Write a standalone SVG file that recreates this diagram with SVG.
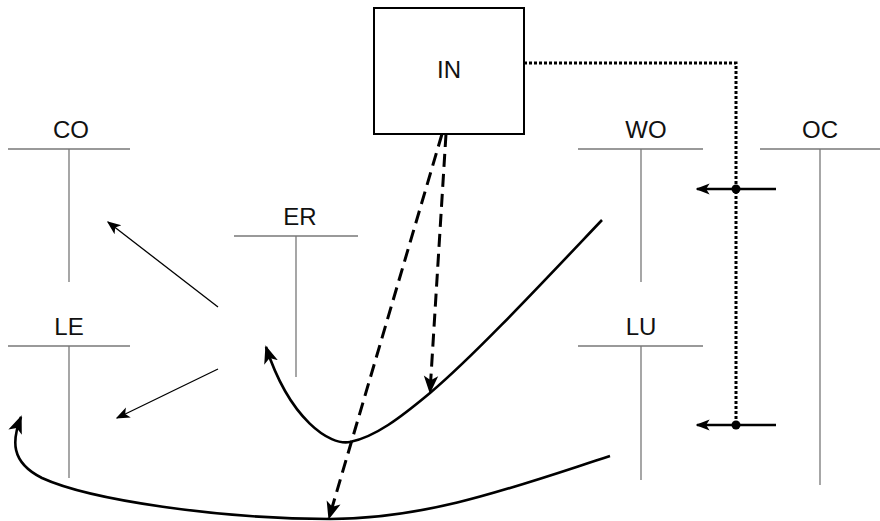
<svg xmlns="http://www.w3.org/2000/svg" width="880" height="521" viewBox="0 0 880 521">
<style>
.lbl{font-family:"Liberation Sans",Arial,sans-serif;font-size:24px;fill:#111;text-anchor:middle}
.tee{stroke:#777;stroke-width:1.3;fill:none}
.thick{stroke:#000;stroke-width:2.6;fill:none}
.thin{stroke:#000;stroke-width:1.3;fill:none}
.dash{stroke:#000;stroke-width:3;fill:none;stroke-dasharray:13 7}
.dot{stroke:#000;stroke-width:3;fill:none;stroke-dasharray:3 2}
</style>
<defs>
<marker id="ahs" viewBox="0 0 10 10" refX="9" refY="5" markerWidth="14" markerHeight="14" markerUnits="userSpaceOnUse" orient="auto">
<path d="M0,1 L10,5 L0,9 L2.5,5 Z" fill="#000"/>
</marker>
<marker id="ahl" viewBox="0 0 10 10" refX="9" refY="5" markerWidth="18" markerHeight="18" markerUnits="userSpaceOnUse" orient="auto">
<path d="M0,1 L10,5 L0,9 L2.5,5 Z" fill="#000"/>
</marker>
</defs>
<g id="IN">
<rect x="374" y="8" width="150" height="126" fill="#fff" stroke="#000" stroke-width="2"/>
<text class="lbl" x="449" y="78">IN</text>
</g>
<g id="CO">
<line class="tee" x1="8" y1="149" x2="130" y2="149"/>
<line class="tee" x1="69" y1="149" x2="69" y2="282"/>
<text class="lbl" x="71" y="138">CO</text>
</g>
<g id="LE">
<line class="tee" x1="8" y1="346" x2="130" y2="346"/>
<line class="tee" x1="69" y1="346" x2="69" y2="478"/>
<text class="lbl" x="69" y="335">LE</text>
</g>
<g id="ER">
<line class="tee" x1="234" y1="236" x2="358" y2="236"/>
<line class="tee" x1="296" y1="236" x2="296" y2="377"/>
<text class="lbl" x="300" y="225">ER</text>
</g>
<g id="WO">
<line class="tee" x1="578" y1="149" x2="703" y2="149"/>
<line class="tee" x1="641" y1="149" x2="641" y2="282"/>
<text class="lbl" x="646" y="138">WO</text>
</g>
<g id="LU">
<line class="tee" x1="578" y1="346" x2="703" y2="346"/>
<line class="tee" x1="641" y1="346" x2="641" y2="480"/>
<text class="lbl" x="641" y="335">LU</text>
</g>
<g id="OC">
<line class="tee" x1="760" y1="149" x2="880" y2="149"/>
<line class="tee" x1="820" y1="149" x2="820" y2="485"/>
<text class="lbl" x="820" y="138">OC</text>
</g>
<g id="connectors">
<path class="dot" d="M524,63 L736,63 L736,425"/>
<line class="thick" x1="776" y1="189" x2="697" y2="189" marker-end="url(#ahs)"/>
<line class="thick" x1="776" y1="425" x2="697" y2="425" marker-end="url(#ahs)"/>
<circle cx="736" cy="189" r="4.5" fill="#000"/>
<circle cx="736" cy="425" r="4.5" fill="#000"/>
<line class="thin" x1="218" y1="307" x2="108" y2="222" marker-end="url(#ahs)"/>
<line class="thin" x1="218" y1="369" x2="117" y2="418" marker-end="url(#ahs)"/>
<path class="thick" d="M602,220 C545,280 475,355 430,393 C400,418 375,437 350,442 C330,446 290,420 266,347" marker-end="url(#ahl)"/>
<path class="thick" d="M610,456 C520,485 430,519 330,519 C220,519 90,500 42,478 C10,462 12,440 21,417" marker-end="url(#ahl)"/>
<line class="dash" x1="446" y1="134" x2="430" y2="392" marker-end="url(#ahl)"/>
<line class="dash" x1="442" y1="134" x2="329" y2="518" marker-end="url(#ahl)"/>
</g>
</svg>
